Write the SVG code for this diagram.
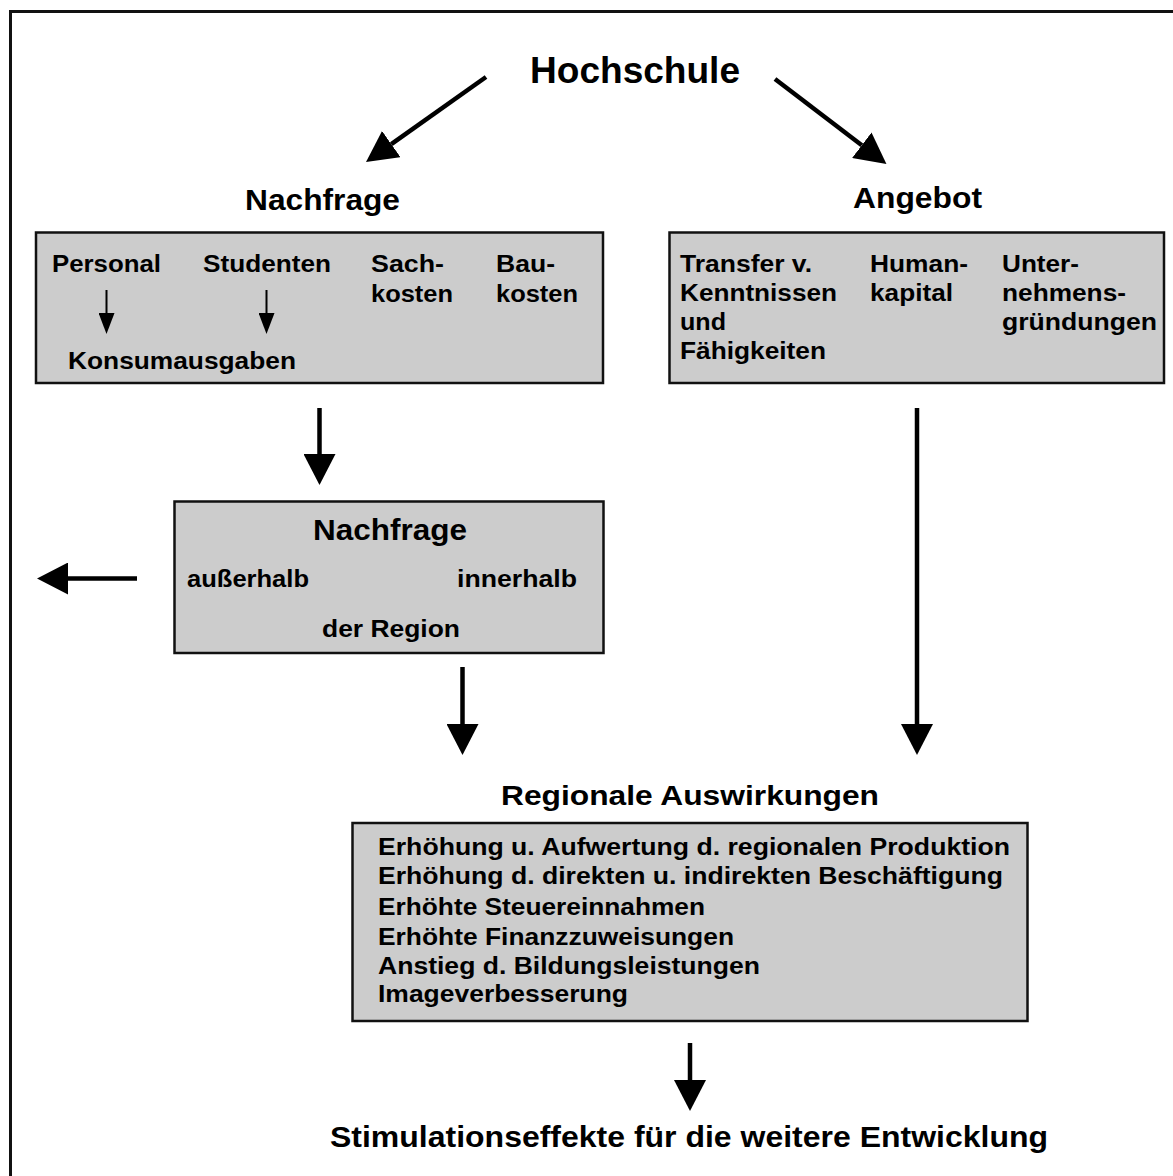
<svg xmlns="http://www.w3.org/2000/svg" width="1173" height="1176" viewBox="0 0 1173 1176">
<style>
text{font-family:"Liberation Sans",Arial,sans-serif;font-weight:bold;fill:#000}
.box{fill:#cccccc;stroke:#111;stroke-width:2.5}
.big{stroke:#000;stroke-width:4.5;fill:none}
.thin{stroke:#000;stroke-width:2;fill:none}
.t23{font-size:23px}
.t30{font-size:29px}
</style>
<defs>
<marker id="ah" markerUnits="userSpaceOnUse" viewBox="0 0 31 32" markerWidth="31" markerHeight="32" refX="0" refY="16" orient="auto"><path d="M0,0 L31,16 L0,32 Z" fill="#000"/></marker>
<marker id="ahs" markerUnits="userSpaceOnUse" viewBox="0 0 21 16" markerWidth="21" markerHeight="16" refX="0" refY="8" orient="auto"><path d="M0,0 L21,8 L0,16 Z" fill="#000"/></marker>
</defs>
<rect x="0" y="0" width="1173" height="1176" fill="#fff"/>
<rect x="10.5" y="11.5" width="1200" height="1200" fill="none" stroke="#111" stroke-width="3"/>

<g id="hochschule"><text x="530" y="83" font-size="36" textLength="210" lengthAdjust="spacingAndGlyphs">Hochschule</text></g>
<g id="nachfrage-label"><text x="245" y="210" class="t30" textLength="155" lengthAdjust="spacingAndGlyphs">Nachfrage</text></g>
<g id="angebot-label"><text x="853" y="208" class="t30" textLength="129" lengthAdjust="spacingAndGlyphs">Angebot</text></g>

<g id="nachfrage-box">
<rect class="box" x="36" y="232.5" width="567" height="150.5"/>
<text class="t23" x="52" y="272" textLength="109" lengthAdjust="spacingAndGlyphs">Personal</text>
<text class="t23" x="203" y="272" textLength="128" lengthAdjust="spacingAndGlyphs">Studenten</text>
<text class="t23" x="371" y="272" textLength="73" lengthAdjust="spacingAndGlyphs">Sach-</text>
<text class="t23" x="371" y="302" textLength="82" lengthAdjust="spacingAndGlyphs">kosten</text>
<text class="t23" x="496" y="272" textLength="59" lengthAdjust="spacingAndGlyphs">Bau-</text>
<text class="t23" x="496" y="302" textLength="82" lengthAdjust="spacingAndGlyphs">kosten</text>
<text class="t23" x="68" y="369" textLength="228" lengthAdjust="spacingAndGlyphs">Konsumausgaben</text>
<line class="thin" x1="106.5" y1="290" x2="106.5" y2="313" marker-end="url(#ahs)"/>
<line class="thin" x1="266.5" y1="290" x2="266.5" y2="313" marker-end="url(#ahs)"/>
</g>

<g id="angebot-box">
<rect class="box" x="669.5" y="232.5" width="494.5" height="150.5"/>
<text class="t23" x="680" y="272" textLength="132" lengthAdjust="spacingAndGlyphs">Transfer v.</text>
<text class="t23" x="680" y="301" textLength="157" lengthAdjust="spacingAndGlyphs">Kenntnissen</text>
<text class="t23" x="680" y="330" textLength="46" lengthAdjust="spacingAndGlyphs">und</text>
<text class="t23" x="680" y="359" textLength="146" lengthAdjust="spacingAndGlyphs">Fähigkeiten</text>
<text class="t23" x="870" y="272" textLength="98" lengthAdjust="spacingAndGlyphs">Human-</text>
<text class="t23" x="870" y="301" textLength="83" lengthAdjust="spacingAndGlyphs">kapital</text>
<text class="t23" x="1002" y="272" textLength="77" lengthAdjust="spacingAndGlyphs">Unter-</text>
<text class="t23" x="1002" y="301" textLength="124" lengthAdjust="spacingAndGlyphs">nehmens-</text>
<text class="t23" x="1002" y="330" textLength="155" lengthAdjust="spacingAndGlyphs">gründungen</text>
</g>

<g id="nachfrage-region-box">
<rect class="box" x="174.5" y="501.5" width="429" height="151.5"/>
<text class="t30" x="313" y="540" textLength="154" lengthAdjust="spacingAndGlyphs">Nachfrage</text>
<text class="t23" x="187" y="587" textLength="122" lengthAdjust="spacingAndGlyphs">außerhalb</text>
<text class="t23" x="457" y="587" textLength="120" lengthAdjust="spacingAndGlyphs">innerhalb</text>
<text class="t23" x="322" y="637" textLength="138" lengthAdjust="spacingAndGlyphs">der Region</text>
</g>

<g id="regionale-label"><text x="501" y="805" font-size="28" textLength="378" lengthAdjust="spacingAndGlyphs">Regionale Auswirkungen</text></g>

<g id="regionale-box">
<rect class="box" x="352.5" y="823" width="675" height="198"/>
<text class="t23" x="378" y="855" textLength="632" lengthAdjust="spacingAndGlyphs">Erhöhung u. Aufwertung d. regionalen Produktion</text>
<text class="t23" x="378" y="884" textLength="625" lengthAdjust="spacingAndGlyphs">Erhöhung d. direkten u. indirekten Beschäftigung</text>
<text class="t23" x="378" y="914.5" textLength="327" lengthAdjust="spacingAndGlyphs">Erhöhte Steuereinnahmen</text>
<text class="t23" x="378" y="945" textLength="356" lengthAdjust="spacingAndGlyphs">Erhöhte Finanzzuweisungen</text>
<text class="t23" x="378" y="974" textLength="382" lengthAdjust="spacingAndGlyphs">Anstieg d. Bildungsleistungen</text>
<text class="t23" x="378" y="1002" textLength="250" lengthAdjust="spacingAndGlyphs">Imageverbesserung</text>
</g>

<g id="stimulation"><text x="330" y="1147" font-size="29" textLength="718" lengthAdjust="spacingAndGlyphs">Stimulationseffekte für die weitere Entwicklung</text></g>

<g id="connectors">
<line class="big" x1="486" y1="77" x2="391.3" y2="144.1" marker-end="url(#ah)"/>
<line class="big" x1="775" y1="79" x2="861.8" y2="145.2" marker-end="url(#ah)"/>
<line class="big" x1="319.5" y1="408" x2="319.5" y2="454" marker-end="url(#ah)"/>
<line class="big" x1="137" y1="578.5" x2="68" y2="578.5" marker-end="url(#ah)"/>
<line class="big" x1="462.5" y1="667" x2="462.5" y2="724" marker-end="url(#ah)"/>
<line class="big" x1="917" y1="408" x2="917" y2="724" marker-end="url(#ah)"/>
<line class="big" x1="690" y1="1043" x2="690" y2="1080" marker-end="url(#ah)"/>
</g>
</svg>
